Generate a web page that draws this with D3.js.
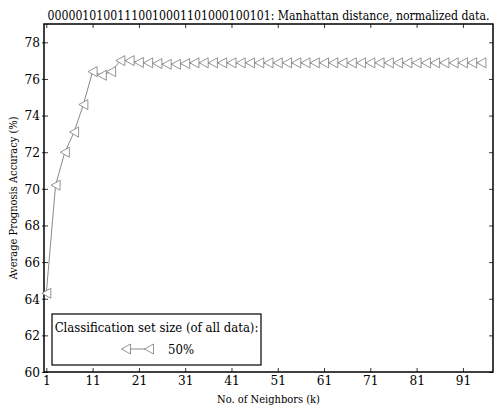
<!DOCTYPE html>
<html>
<head>
<meta charset="utf-8">
<script src="https://cdn.jsdelivr.net/npm/d3@7"></script>
<style>
  body { margin: 0; background: #fff; }
  svg text { font-family: "DejaVu Serif Condensed", "DejaVu Serif", serif; font-stretch: condensed; }
</style>
</head>
<body>
<div id="chart"></div>
<script>
// data
var kValues = [1, 3, 5, 7, 9, 11, 13, 15, 17, 19, 21, 23, 25, 27, 29, 31,
  33, 35, 37, 39, 41, 43, 45, 47, 49, 51, 53, 55, 57, 59, 61, 63,
  65, 67, 69, 71, 73, 75, 77, 79, 81, 83, 85, 87, 89, 91, 93, 95];
var accuracy = [64.3, 70.2, 72.0, 73.1, 74.6, 76.4, 76.2, 76.4, 77.0, 77.0, 76.9, 76.88, 76.84, 76.8, 76.8, 76.84,
  76.88, 76.88, 76.88, 76.88, 76.88, 76.88, 76.88, 76.88, 76.88, 76.88, 76.88, 76.88, 76.88, 76.88, 76.88, 76.88,
  76.88, 76.88, 76.88, 76.88, 76.88, 76.88, 76.88, 76.88, 76.88, 76.88, 76.88, 76.88, 76.88, 76.88, 76.88, 76.88];
var xTicks = [1, 11, 21, 31, 41, 51, 61, 71, 81, 91];
var yTicks = [60, 62, 64, 66, 68, 70, 72, 74, 76, 78];
var seriesName = "50%";
var chartTitle = "00000101001110010001101000100101: Manhattan distance, normalized data.";

// set the dimensions and margins of the graph
var margin = {top: 24, right: 2, bottom: 35, left: 44},
    width = 495 - margin.left - margin.right,
    height = 407 - margin.top - margin.bottom;

var svgRoot = d3.select("#chart")
  .append("svg")
    .attr("width", 495)
    .attr("height", 407);
var svg = svgRoot.append("g")
    .attr("transform", "translate(" + margin.left + "," + margin.top + ")");

var data = kValues.map(function(k, i) { return {k: k, v: accuracy[i]}; });

// scales
var x = d3.scaleLinear().domain([0.5, 97.5]).range([0, width]);
var y = d3.scaleLinear().domain([60, 79]).range([height, 0]);

// axes (ticks pointing inward, on all four sides)
function styleAxis(g) {
  g.attr("font-family", null).attr("font-size", null);
  g.select(".domain").remove();
  g.selectAll("line").attr("stroke", "#000").attr("stroke-width", 0.8);
  g.selectAll("text").attr("font-size", 13.5).attr("fill", "#000");
}
svg.append("g")
  .attr("transform", "translate(0," + height + ")")
  .call(d3.axisBottom(x).tickValues(xTicks).tickSize(-4).tickPadding(3))
  .call(styleAxis);
svg.append("g")
  .call(d3.axisTop(x).tickValues(xTicks).tickSize(-4).tickFormat(""))
  .call(styleAxis);
svg.append("g")
  .call(d3.axisLeft(y).tickValues(yTicks).tickSize(-4).tickPadding(4))
  .call(styleAxis)
  .selectAll("line").attr("x1", -2);
svg.append("g")
  .attr("transform", "translate(" + width + ",0)")
  .call(d3.axisRight(y).tickValues(yTicks).tickSize(-4).tickFormat(""))
  .call(styleAxis);

// frame
svg.append("rect")
  .attr("width", width)
  .attr("height", height)
  .attr("fill", "none")
  .attr("stroke", "#000")
  .attr("stroke-width", 1.5);

// line
var line = d3.line()
  .x(function(d) { return x(d.k); })
  .y(function(d) { return y(d.v); });
svg.append("path")
  .datum(data)
  .attr("fill", "none")
  .attr("stroke", "#8a8a8a")
  .attr("stroke-width", 1)
  .attr("d", line);

// left-pointing triangle markers
var tri = "M-4.5,0L4.5,-5L4.5,5Z";
svg.selectAll(".marker")
  .data(data)
  .enter()
  .append("path")
    .attr("class", "marker")
    .attr("transform", function(d) { return "translate(" + x(d.k) + "," + y(d.v) + ")"; })
    .attr("d", tri)
    .attr("fill", "#fff")
    .attr("stroke", "#7a7a7a")
    .attr("stroke-width", 0.8);

// title and axis labels
svgRoot.append("text")
  .attr("x", margin.left + width / 2)
  .attr("y", 19.5)
  .attr("text-anchor", "middle")
  .attr("font-size", 12.2)
  .text(chartTitle);
svgRoot.append("text")
  .attr("x", margin.left + width / 2)
  .attr("y", 403)
  .attr("text-anchor", "middle")
  .attr("font-size", 11)
  .text("No. of Neighbors (k)");
svgRoot.append("text")
  .attr("transform", "translate(17," + (margin.top + height / 2) + ")rotate(-90)")
  .attr("text-anchor", "middle")
  .attr("font-size", 11)
  .text("Average Prognosis Accuracy (%)");

// legend
var legend = svgRoot.append("g").attr("transform", "translate(52,314)");
legend.append("rect")
  .attr("width", 209)
  .attr("height", 51)
  .attr("fill", "#fff")
  .attr("stroke", "#000")
  .attr("stroke-width", 1.2);
legend.append("text")
  .attr("x", 104.5)
  .attr("y", 18)
  .attr("text-anchor", "middle")
  .attr("font-size", 13)
  .text("Classification set size (of all data):");
legend.append("line")
  .attr("x1", 70).attr("x2", 101)
  .attr("y1", 35).attr("y2", 35)
  .attr("stroke", "#8a8a8a")
  .attr("stroke-width", 1);
legend.selectAll(".lm")
  .data([74, 97])
  .enter()
  .append("path")
    .attr("class", "lm")
    .attr("transform", function(d) { return "translate(" + d + ",35)"; })
    .attr("d", tri)
    .attr("fill", "#fff")
    .attr("stroke", "#7a7a7a")
    .attr("stroke-width", 0.8);
legend.append("text")
  .attr("x", 116)
  .attr("y", 40)
  .attr("font-size", 13)
  .text(seriesName);
</script>
</body>
</html>
